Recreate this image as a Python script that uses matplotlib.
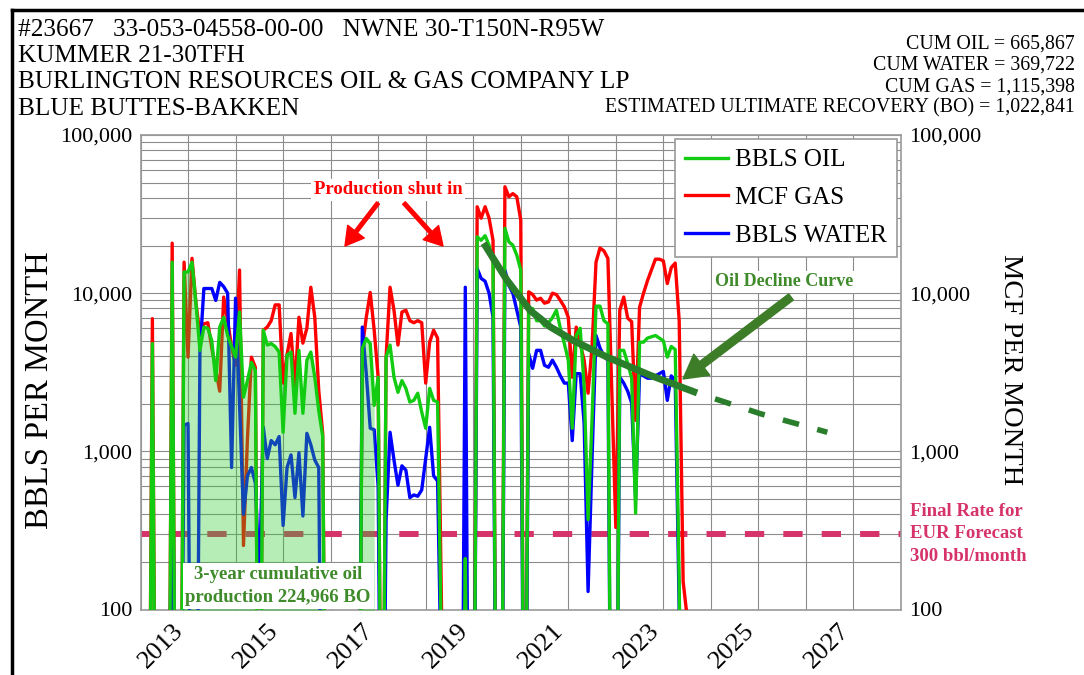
import numpy as np
import matplotlib
matplotlib.use("Agg")
import matplotlib.pyplot as plt
from matplotlib.lines import Line2D
from matplotlib.ticker import FixedLocator, LogLocator, NullFormatter

plt.rcParams["font.family"] = "Liberation Serif"

# =============================================================================
# DATA (monthly, first value = Mar 2012; 1 means no production that month)
START_YEAR, START_MONTH = 2012, 3

oil = [
    1, 4800, 1, 1, 1, 1, 15700, 1, 1, 13600,                                   # 2012 Mar-Dec
    13600, 15700, 8640, 4350, 6100, 6000, 5000, 2800, 6100, 7040, 5400, 4600,  # 2013
    3940, 7600, 2200, 2800, 3650, 3240, 1, 5830, 4700, 4800, 4600, 4240,       # 2014
    1320, 4060, 4240, 1740, 4350, 1740, 3770, 4240, 2940, 1810, 1240, 1,       # 2015
    1, 1, 1, 1, 1, 1, 1, 1, 4480, 5170, 4800, 1950,                            # 2016
    2940, 1, 3940, 4700, 2940, 2360, 2800, 2500, 2050, 2100, 2330, 1770,       # 2017
    1400, 2500, 2100, 2050, 50, 1, 1, 1, 1, 1, 210, 1,                         # 2018
    1, 22700, 21600, 23100, 20100, 15500, 1, 1, 25700, 21100, 20100, 17400,    # 2019
    14000, 1, 7500, 8000, 6700, 6700, 6200, 6500, 7000, 7800, 6000, 4800,      # 2020
    3770, 1400, 5400, 6000, 2600, 370, 1600, 8280, 8280, 6700, 6400, 1,        # 2021
    1, 4350, 4350, 3600, 2900, 406, 4900, 4900, 5200, 5300, 5400, 5200,        # 2022
    5000, 3940, 4600, 4400, 150, 1, 1,                                         # 2023
]
gas = [
    1, 6900, 1, 1, 1, 1, 20700, 1, 1, 15700,
    3940, 16600, 8640, 5500, 6400, 6500, 4500, 3300, 2400, 9450, 6700, 4560,
    3500, 14000, 254, 1200, 3940, 3400, 1, 5830, 6100, 6700, 8430, 8430,
    2700, 4100, 5560, 2540, 7040, 4830, 6000, 10900, 7040, 2430, 1300, 1,
    1, 1, 1, 1, 1, 1, 1, 1, 4480, 7040, 10100, 5830,
    2940, 1, 3940, 10900, 7800, 4700, 7600, 7800, 6700, 6500, 6700, 6500,
    2700, 4900, 5830, 5200, 100, 1, 1, 1, 1, 1, 1, 1,
    1, 35200, 29800, 35200, 29800, 21600, 1, 1, 47100, 40700, 42600, 40700,
    29000, 1, 10200, 9800, 9040, 9290, 8640, 8800, 10000, 9800, 9000, 8200,
    7040, 2940, 6100, 4800, 3770, 2330, 4560, 15700, 19300, 18500, 16600, 2400,
    330, 7800, 9450, 6950, 6600, 1570, 8150, 10000, 12000, 14000, 16400, 16400,
    16000, 11500, 14500, 15500, 6700, 150, 90,
]
water = [
    1, 1, 1, 1, 1, 1, 3200, 1, 1, 1460,
    1500, 1, 1, 4240, 10700, 10700, 10700, 9000, 11700, 11000, 10000, 790,
    9300, 2000, 400, 700, 790, 630, 150, 1420, 900, 1170, 1100, 1240,
    340, 790, 950, 510, 980, 390, 1300, 1100, 880, 790, 1, 1,
    1, 1, 1, 1, 1, 1, 1, 1, 6100, 3100, 1400, 1370,
    600, 1, 370, 1320, 880, 610, 810, 760, 510, 530, 520, 570,
    900, 1420, 700, 650, 30, 1, 1, 1, 1, 1, 10900, 1,
    1, 14300, 12400, 11900, 10000, 7040, 1, 1, 14000, 11200, 10000, 7800,
    6100, 1, 4150, 3350, 4350, 4350, 3500, 3400, 3770, 3400, 3000, 2700,
    2700, 1170, 3100, 3100, 1500, 130, 900, 5400, 4500, 4000, 3770, 1,
    1, 2940, 2700, 2400, 2020, 500, 3100, 3000, 2900, 2900, 3000, 3100,
    3200, 2100, 3000, 2800, 100, 1, 1,
]

# oil decline curve and its dashed forecast
decline_years = [2019.22, 2019.71, 2020.2, 2020.41, 2020.62, 2021.11, 2021.81, 2022.73, 2023.71]
decline_vals = [20700, 12100, 7760, 6920, 6120, 5010, 3950, 3020, 2340]
forecast_years = [2023.71, 2025.04, 2026.45]
forecast_vals = [2340, 1730, 1320]

final_rate = 300                 # bbl/month, EUR cut-off
cum_window = (2012.83, 2016.92)  # shaded "3-year cumulative" period

header_left = [
    "#23667   33-053-04558-00-00   NWNE 30-T150N-R95W",
    "KUMMER 21-30TFH",
    "BURLINGTON RESOURCES OIL & GAS COMPANY LP",
    "BLUE BUTTES-BAKKEN",
]
header_right = [
    "CUM OIL = 665,867",
    "CUM WATER = 369,722",
    "CUM GAS = 1,115,398",
    "ESTIMATED ULTIMATE RECOVERY (BO) = 1,022,841",
]
year_ticks = list(range(2012, 2029))
y_ticks = [100, 1000, 10000, 100000]

# =============================================================================
# COLORS
C_OIL, C_GAS, C_WATER = "#11cc11", "#ff0000", "#0000ff"
C_FILL = "#2ecc2e"
C_RATE = "#d5336a"
C_DECLINE = "#2a7d2a"
C_NOTE = "#3f8a2a"

W, H = 1084, 675
fig = plt.figure(figsize=(W / 100, H / 100), dpi=100)


def fx(x):
    return x / W


def fy(y):
    return 1 - y / H


ax = fig.add_axes([fx(140.5), fy(609.5), (901 - 140.5) / W, (609.5 - 135) / H])

n = len(oil)
x = START_YEAR + (START_MONTH - 1 + np.arange(n)) / 12.0
oil_a, gas_a, water_a = np.array(oil, float), np.array(gas, float), np.array(water, float)

# final rate line (under everything)
ax.axhline(final_rate, color=C_RATE, lw=4.3, linestyle=(1.76, (3.23, 3.2)), zorder=2)

ax.plot(x, gas_a, color=C_GAS, lw=2.4, zorder=3)
ax.plot(x, water_a, color=C_WATER, lw=2.4, zorder=3.1)

mask = (x >= cum_window[0]) & (x <= cum_window[1])
ax.fill_between(x[mask], oil_a[mask], 1, color=C_FILL, alpha=0.35, lw=0, zorder=4)

ax.plot(x, oil_a, color=C_OIL, lw=2.4, zorder=5)

ax.plot(decline_years, decline_vals, color=C_DECLINE, lw=5.0, zorder=6,
        solid_capstyle="butt")
ax.plot(forecast_years, forecast_vals, color=C_DECLINE, lw=4.0, zorder=6,
        linestyle=(3.0, (3.0, 3.4)))

# axes scales, grid, ticks
ax.set_yscale("log")
ax.set_ylim(100, 100000)
ax.set_xlim(2012, 2028)
ax.yaxis.set_major_locator(FixedLocator(y_ticks))
ax.set_yticklabels([f"{v:,}" for v in y_ticks])
ax.yaxis.set_minor_locator(LogLocator(base=10, subs=range(2, 10)))
ax.yaxis.set_minor_formatter(NullFormatter())
ax.set_xticks(year_ticks)
ax.set_xticklabels([str(y) if y % 2 else "" for y in year_ticks],
                   rotation=45, ha="right", fontsize=19)
ax.tick_params(axis="both", which="both", length=0)
ax.tick_params(axis="x", pad=7)
ax.tick_params(axis="y", labelsize=16, labelright=True, pad=6)
ax.grid(True, which="both", color="#8c8c8c", lw=0.8, zorder=0)
ax.set_axisbelow(True)
for s in ax.spines.values():
    s.set_color("#9a9a9a")
    s.set_linewidth(1.2)

# legend
handles = [Line2D([], [], color=C_OIL, lw=2.4),
           Line2D([], [], color=C_GAS, lw=2.4),
           Line2D([], [], color=C_WATER, lw=2.4)]
leg = ax.legend(handles, ["BBLS OIL", "MCF GAS", "BBLS WATER"], loc="upper right",
                bbox_to_anchor=(fx(897), fy(139)), bbox_transform=fig.transFigure,
                borderaxespad=0, fontsize=18, handlelength=1.7, handletextpad=0.3,
                labelspacing=0.6, borderpad=0.4, fancybox=False, framealpha=1,
                edgecolor="#9a9a9a")
leg.set_zorder(20)
leg.get_frame().set_linewidth(1.2)

# annotations
bold = dict(fontweight="bold", zorder=15)
ax.text(fx(388), fy(190), "Production shut in", transform=fig.transFigure, color="#ff0000",
        fontsize=13.5, ha="center", va="center",
        bbox=dict(facecolor="white", edgecolor="none", pad=2), **bold)
for tail, tip in [((378, 203), (345, 246)), ((404, 203), (443, 246))]:
    ax.annotate("", xy=(fx(tip[0]), fy(tip[1])), xytext=(fx(tail[0]), fy(tail[1])),
                xycoords="figure fraction", textcoords="figure fraction",
                arrowprops=dict(facecolor="#ff0000", edgecolor="#ff0000",
                                width=2.6, headwidth=15, headlength=13, shrink=0),
                zorder=15)

ax.text(fx(784), fy(282), "Oil Decline Curve", transform=fig.transFigure, color=C_NOTE,
        fontsize=13, ha="center", va="center",
        bbox=dict(facecolor="white", edgecolor="none", pad=2), **bold)
ax.annotate("", xy=(fx(683), fy(379)), xytext=(fx(791), fy(297)),
            xycoords="figure fraction", textcoords="figure fraction",
            arrowprops=dict(facecolor="#3d7d28", edgecolor="#3d7d28",
                            width=5.5, headwidth=19, headlength=17, shrink=0),
            zorder=15)

ax.text(fx(278), fy(586), "3-year cumulative oil\nproduction 224,966 BO",
        transform=fig.transFigure, color=C_NOTE, fontsize=13.5, ha="center",
        va="center", linespacing=1.45,
        bbox=dict(facecolor="white", edgecolor="none", pad=2), **bold)

fig.text(fx(910), fy(534), "Final Rate for\nEUR Forecast\n300 bbl/month", color=C_RATE,
         fontsize=13.5, fontweight="bold", ha="left", va="center", linespacing=1.45)

# axis titles
fig.text(fx(40), fy(390), "BBLS PER MONTH", rotation=90, fontsize=23.5,
         ha="center", va="center")
fig.text(fx(1010), fy(370), "MCF PER MONTH", rotation=270, fontsize=20.5,
         ha="center", va="center")

# header
for i, line in enumerate(header_left):
    fig.text(fx(18), fy(36 + 26.2 * i), line, fontsize=18.2, ha="left", va="baseline")
for i, line in enumerate(header_right):
    fig.text(fx(1075), fy(48.5 + 21.3 * i), line, fontsize=14.3, ha="right", va="baseline")

# page border (top and left)
fig.add_artist(Line2D([fx(12), 1.0], [fy(10), fy(10)], color="black", lw=2.5))
fig.add_artist(Line2D([fx(12), fx(12)], [fy(10), 0.0], color="black", lw=2.5))

fig.savefig("out.png", dpi=100)
